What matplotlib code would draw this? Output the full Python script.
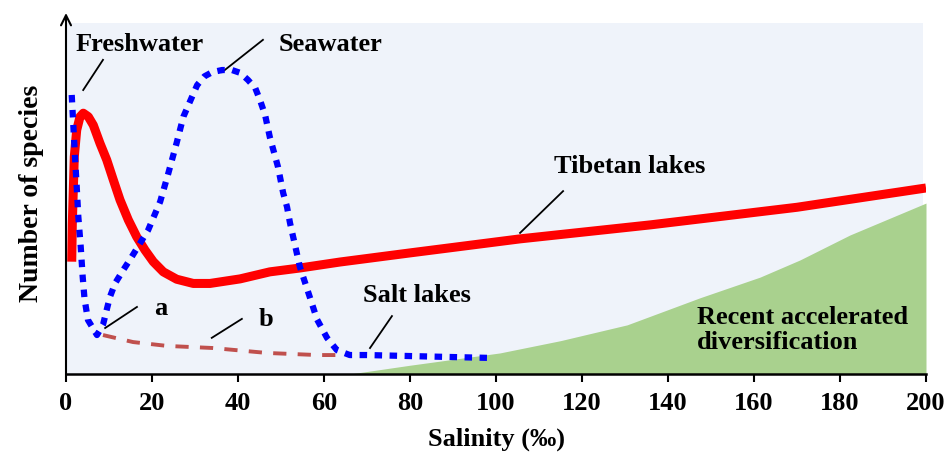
import matplotlib.pyplot as plt

plt.rcParams['font.family'] = ['Liberation Serif', 'DejaVu Serif']
plt.rcParams['font.weight'] = 'bold'

# Tibetan lakes (red solid)
tibet_x = [1.33, 1.47, 1.70, 1.93, 2.49, 3.26, 4.02, 5.19, 6.35, 7.91, 9.47, 11.0, 12.56, 14.49,
           16.44, 18.37, 20.3, 22.63, 25.74, 29.6, 33.5, 40.5, 47.4, 54.4, 63.7, 80.0, 105.6,
           136.0, 170.0, 200.0]
tibet_y = [32.0, 43.0, 52.4, 61.9, 69.5, 73.3, 74.3, 73.3, 70.9, 65.7, 61.0, 55.3, 49.6, 43.9,
           39.1, 35.3, 32.0, 29.1, 27.0, 25.8, 25.8, 27.1, 29.1, 30.2, 31.9, 34.5, 38.5,
           42.5, 47.5, 53.0]

# Freshwater / seawater / salt lakes (blue dotted)
sea_x = [1.33, 1.70, 2.09, 2.49, 2.86, 3.42, 3.88, 4.3, 5.1, 7.2, 8.6, 10.2, 11.4, 13.3, 15.3,
         19.1, 21.9, 23.8, 25.7, 27.3, 29.0, 30.5, 32.2, 34.0, 36.3, 38.6, 40.5, 42.3, 44.0,
         45.1, 46.3, 47.4, 49.3, 50.5, 51.4, 52.1, 54.4, 56.7, 58.4, 60.7, 63.0, 66.0, 70.0, 97.9]
sea_y = [79.5, 70.9, 61.9, 53.4, 44.9, 36.3, 27.7, 21.5, 15.4, 11.1, 14.0, 21.9, 25.8, 29.6, 33.4,
         41.0, 49.1, 57.2, 65.7, 73.3, 78.1, 82.3, 84.8, 86.0, 86.6, 86.6, 85.8, 83.8, 81.5,
         78.1, 73.8, 67.5, 59.0, 51.6, 47.6, 43.0, 30.5, 21.9, 15.5, 10.3, 6.8, 5.4, 5.4, 4.6]

# path b (brown dashed)
b_x = [8.6, 15.6, 23.5, 34.2, 46.7, 58.4, 64.4]
b_y = [11.1, 9.1, 8.0, 7.4, 6.0, 5.4, 5.4]

# recent accelerated diversification (green area)
green_x = [66.0, 80.0, 100.9, 115.0, 130.5, 147.4, 161.4, 170.7, 182.3, 200.0]
green_y = [0.0, 2.5, 6.0, 9.5, 14.0, 21.7, 27.6, 32.5, 39.6, 48.7]

x_ticks = [0, 20, 40, 60, 80, 100, 120, 140, 160, 180, 200]
X_MAX = 200
Y_TOP = 100

fig = plt.figure(figsize=(9.44, 4.57), dpi=100)
ax = fig.add_axes([66 / 944, 83 / 457, 860 / 944, 361 / 457])
ax.set_xlim(0, X_MAX)
ax.set_ylim(0, Y_TOP * 361 / 351)

# light panel background
ax.fill_between([0, X_MAX - 0.7], 0, Y_TOP, color='#eff3fa', lw=0, zorder=0)

ax.fill_between(green_x, 0, green_y, color='#a9d18e', lw=0, zorder=1)
ax.plot(b_x, b_y, color='#c0504d', lw=2.8, linestyle=(0, (3.4, 2.9)), zorder=2)
ax.plot(tibet_x, tibet_y, color='#ff0000', lw=6.5, solid_capstyle='butt',
        solid_joinstyle='round', zorder=3)
ax.plot(sea_x, sea_y, color='#0000ff', lw=4.5, linestyle=(0, (1.2, 1.2)), zorder=4)

for side in ['top', 'right', 'left']:
    ax.spines[side].set_visible(False)
ax.spines['bottom'].set_linewidth(1.8)
ax.annotate('', xy=(0, 1.0), xycoords='axes fraction', xytext=(0, 0),
            arrowprops=dict(arrowstyle='->', lw=1.5, color='black', shrinkA=0, shrinkB=0,
                            mutation_scale=18))

ax.set_xticks(x_ticks)
ax.set_yticks([])
ax.tick_params(axis='x', direction='out', length=6, width=1.5, labelsize=19, pad=7)
for lab in ax.get_xticklabels():
    lab.set_fontweight('bold')

ax.set_xlabel('Salinity (‰)', fontsize=19, fontweight='bold', labelpad=9)
ax.set_ylabel('Number of species', fontsize=20, fontweight='bold', labelpad=16)

txt = dict(fontsize=19, fontweight='bold', color='black')
line = dict(color='black', lw=1.3)

ax.text(2.2, 94.0, 'Freshwater', ha='left', va='center', **txt)
ax.plot([8.6, 4.0], [89.5, 80.9], **line)

ax.text(49.5, 94.0, 'Seawater', ha='left', va='center', **txt)
ax.plot([45.8, 36.3], [95.2, 86.0], **line)

ax.text(113.5, 59.0, 'Tibetan lakes', ha='left', va='center', **txt)
ax.plot([115.6, 105.6], [52.1, 40.2], **line)

ax.text(20.5, 18.8, 'a', ha='left', va='center', **txt)
ax.plot([16.5, 9.1], [19.1, 13.1], **line)

ax.text(44.8, 15.4, 'b', ha='left', va='center', **txt)
ax.plot([40.9, 33.9], [15.7, 10.3], **line)

ax.text(69.0, 22.5, 'Salt lakes', ha='left', va='center', **txt)
ax.plot([75.8, 70.7], [16.5, 7.4], **line)

ax.text(146.7, 12.5, 'Recent accelerated\ndiversification', ha='left', va='center',
        linespacing=1.15, **txt)

fig.savefig('out.png', dpi=100)
